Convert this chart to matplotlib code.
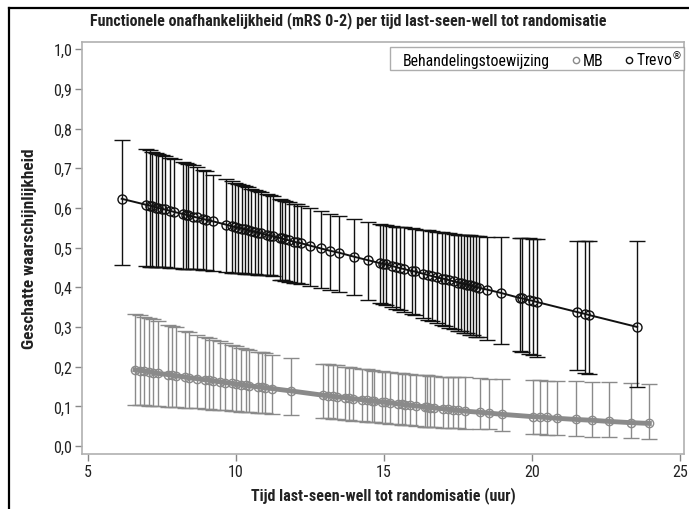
import numpy as np
import matplotlib
matplotlib.use("Agg")
import matplotlib.pyplot as plt
from matplotlib.lines import Line2D
from matplotlib.ticker import FuncFormatter
from matplotlib import font_manager

namen = {f.name for f in font_manager.fontManager.ttflist}
smal = [n for n in ['Liberation Sans Narrow', 'DejaVu Sans Condensed', 'Roboto Condensed',
                    'Open Sans Condensed', 'Noto Sans Condensed'] if n in namen]
plt.rcParams['font.family'] = smal + ['DejaVu Sans']
plt.rcParams['font.stretch'] = 'condensed'

# Trevo (zwart)
trevo_x = [6.14, 6.96, 7.08, 7.18, 7.3, 7.37, 7.49, 7.6, 7.77, 7.9, 8.2, 8.3, 8.39, 8.56, 8.67,
           8.9, 8.99, 9.23, 9.66, 9.85, 9.97, 10.08, 10.2, 10.3, 10.4, 10.52, 10.63, 10.75, 10.85,
           11.04, 11.15, 11.26, 11.5, 11.54, 11.65, 11.8, 11.95, 12.05, 12.2, 12.5, 12.86, 13.18,
           13.49, 13.99, 14.47, 14.86, 14.97, 15.05, 15.26, 15.4, 15.55, 15.68, 15.93, 16.03, 16.33,
           16.48, 16.63, 16.8, 16.95, 17.05, 17.2, 17.35, 17.5, 17.6, 17.7, 17.8, 17.9, 18.0, 18.1,
           18.2, 18.49, 18.94, 19.59, 19.67, 19.88, 20.02, 20.16, 21.5, 21.79, 21.93, 23.55]
trevo_y = [0.623, 0.608, 0.606, 0.604, 0.601, 0.600, 0.598, 0.596, 0.593, 0.590, 0.585, 0.583,
           0.581, 0.578, 0.576, 0.572, 0.570, 0.566, 0.558, 0.554, 0.552, 0.550, 0.548, 0.546,
           0.544, 0.542, 0.540, 0.537, 0.536, 0.532, 0.530, 0.528, 0.524, 0.523, 0.521, 0.518,
           0.515, 0.513, 0.511, 0.505, 0.498, 0.492, 0.487, 0.477, 0.468, 0.461, 0.459, 0.458,
           0.454, 0.451, 0.448, 0.446, 0.441, 0.440, 0.434, 0.431, 0.428, 0.425, 0.422, 0.421,
           0.418, 0.415, 0.412, 0.410, 0.409, 0.407, 0.405, 0.403, 0.401, 0.399, 0.394, 0.386,
           0.373, 0.372, 0.368, 0.366, 0.363, 0.338, 0.333, 0.330, 0.300]
trevo_hi = [0.770, 0.748, 0.745, 0.742, 0.739, 0.737, 0.734, 0.731, 0.727, 0.724, 0.716, 0.713,
            0.711, 0.707, 0.704, 0.695, 0.693, 0.684, 0.672, 0.667, 0.664, 0.661, 0.658, 0.655,
            0.652, 0.648, 0.645, 0.642, 0.639, 0.635, 0.632, 0.629, 0.622, 0.621, 0.618, 0.615,
            0.611, 0.609, 0.606, 0.600, 0.592, 0.585, 0.579, 0.572, 0.565, 0.559, 0.558, 0.557,
            0.555, 0.553, 0.552, 0.551, 0.549, 0.548, 0.545, 0.544, 0.542, 0.540, 0.539, 0.538,
            0.536, 0.535, 0.533, 0.532, 0.532, 0.531, 0.531, 0.530, 0.530, 0.529, 0.527, 0.527,
            0.524, 0.524, 0.523, 0.522, 0.522, 0.517, 0.516, 0.516, 0.516]
trevo_lo = [0.456, 0.453, 0.452, 0.452, 0.451, 0.451, 0.450, 0.450, 0.449, 0.448, 0.447, 0.447,
            0.446, 0.446, 0.445, 0.444, 0.444, 0.442, 0.438, 0.437, 0.436, 0.435, 0.435, 0.434,
            0.434, 0.433, 0.433, 0.432, 0.432, 0.431, 0.430, 0.428, 0.419, 0.418, 0.416, 0.413,
            0.411, 0.410, 0.408, 0.404, 0.398, 0.393, 0.387, 0.380, 0.367, 0.361, 0.359, 0.356,
            0.350, 0.346, 0.342, 0.339, 0.333, 0.330, 0.322, 0.318, 0.314, 0.309, 0.305, 0.302,
            0.298, 0.294, 0.291, 0.289, 0.286, 0.284, 0.281, 0.279, 0.276, 0.274, 0.267, 0.256,
            0.240, 0.238, 0.232, 0.229, 0.225, 0.191, 0.185, 0.182, 0.150]

# MB (grijs)
mb_x = [6.59, 6.76, 6.9, 7.07, 7.2, 7.38, 7.71, 7.85, 7.97, 8.28, 8.4, 8.67, 8.95, 9.08, 9.23,
        9.45, 9.62, 9.85, 10.0, 10.17, 10.34, 10.43, 10.75, 10.87, 10.98, 11.2, 11.85, 12.95,
        13.12, 13.27, 13.40, 13.68, 13.83, 13.96, 14.25, 14.41, 14.58, 14.66, 14.92, 15.03, 15.20,
        15.48, 15.60, 15.71, 15.88, 16.08, 16.39, 16.44, 16.55, 16.69, 17.00, 17.17, 17.34, 17.51,
        17.74, 18.24, 18.56, 18.97, 20.04, 20.27, 20.5, 20.83, 21.49, 22.01, 22.61, 23.33, 23.96]
mb_y = [0.192, 0.190, 0.189, 0.187, 0.185, 0.183, 0.180, 0.178, 0.177, 0.174, 0.172, 0.170,
        0.167, 0.166, 0.164, 0.162, 0.160, 0.158, 0.156, 0.155, 0.153, 0.152, 0.149, 0.148,
        0.147, 0.145, 0.139, 0.128, 0.127, 0.125, 0.124, 0.122, 0.120, 0.119, 0.117, 0.115,
        0.114, 0.113, 0.111, 0.110, 0.109, 0.106, 0.105, 0.104, 0.103, 0.101, 0.099, 0.098,
        0.097, 0.096, 0.094, 0.093, 0.091, 0.090, 0.088, 0.085, 0.083, 0.080, 0.074, 0.073,
        0.072, 0.070, 0.067, 0.065, 0.062, 0.059, 0.057]
mb_hi = [0.332, 0.329, 0.326, 0.322, 0.319, 0.315, 0.306, 0.302, 0.299, 0.291, 0.288, 0.281,
         0.275, 0.272, 0.268, 0.264, 0.260, 0.255, 0.252, 0.248, 0.245, 0.243, 0.238, 0.236,
         0.234, 0.230, 0.221, 0.208, 0.206, 0.204, 0.203, 0.200, 0.198, 0.197, 0.194, 0.193,
         0.191, 0.190, 0.188, 0.187, 0.186, 0.184, 0.183, 0.182, 0.181, 0.180, 0.178, 0.178,
         0.177, 0.176, 0.175, 0.175, 0.174, 0.174, 0.174, 0.171, 0.170, 0.168, 0.166, 0.166,
         0.165, 0.165, 0.163, 0.162, 0.161, 0.159, 0.157]
mb_lo = [0.104, 0.103, 0.103, 0.102, 0.101, 0.101, 0.099, 0.099, 0.098, 0.097, 0.096, 0.095,
         0.094, 0.093, 0.092, 0.091, 0.090, 0.089, 0.088, 0.087, 0.086, 0.086, 0.084, 0.083,
         0.083, 0.081, 0.078, 0.071, 0.070, 0.069, 0.068, 0.066, 0.065, 0.064, 0.062, 0.061,
         0.060, 0.060, 0.058, 0.057, 0.056, 0.055, 0.054, 0.053, 0.052, 0.051, 0.049, 0.049,
         0.048, 0.048, 0.046, 0.046, 0.045, 0.045, 0.044, 0.043, 0.042, 0.039, 0.031, 0.030,
         0.029, 0.028, 0.026, 0.024, 0.022, 0.020, 0.018]

grijs = '#8a8a8a'
zwart = '#111111'

fig = plt.figure(figsize=(6.89, 5.10), dpi=100)
ax = fig.add_axes([82/689, 1-455/510, 602/689, 412/510])

mb_x = np.array(mb_x); mb_y = np.array(mb_y)
tr_x = np.array(trevo_x); tr_y = np.array(trevo_y)

ax.errorbar(mb_x, mb_y, yerr=[mb_y - np.array(mb_lo), np.array(mb_hi) - mb_y],
            fmt='none', ecolor=grijs, elinewidth=1, capsize=6, capthick=1, zorder=2)
ax.plot(mb_x, mb_y, color=grijs, lw=3.5, zorder=3)
ax.plot(mb_x, mb_y, 'o', ms=6, mfc='none', mec=grijs, mew=1, zorder=4)

ax.errorbar(tr_x, tr_y, yerr=[tr_y - np.array(trevo_lo), np.array(trevo_hi) - tr_y],
            fmt='none', ecolor=zwart, elinewidth=1, capsize=6, capthick=1, zorder=5)
ax.plot(tr_x, tr_y, color=zwart, lw=1.4, zorder=6)
ax.plot(tr_x, tr_y, 'o', ms=6.5, mfc='none', mec=zwart, mew=1, zorder=7)

ax.set_xlim(4.8, 25.13)
ax.set_ylim(-0.02, 1.018)
ax.set_xticks([5, 10, 15, 20, 25])
ax.set_yticks(np.arange(0, 1.01, 0.1))
ax.yaxis.set_major_formatter(FuncFormatter(lambda v, p: f"{v:.1f}".replace('.', ',')))
for s in ax.spines.values():
    s.set_color('#b0b0b0')
    s.set_linewidth(1.2)
ax.tick_params(axis='both', colors='#888888', labelcolor='#222222', labelsize=11.5,
               length=5, width=1, pad=2)

smal_ok = len(smal) > 0
k = 1.0 if smal_ok else 0.78
fig.text(348/689, 1-21/510,
         'Functionele onafhankelijkheid (mRS 0-2) per tijd last-seen-well tot randomisatie',
         ha='center', va='center', fontsize=11.5 * k, fontweight='bold', color='#222222')
ax.set_xlabel('Tijd last-seen-well tot randomisatie (uur)', fontsize=11.5 * k, fontweight='bold',
              color='#222222', labelpad=5)
ax.set_ylabel('Geschatte waarschijnlijkheid', fontsize=12.5 * k, fontweight='bold',
              color='#222222', labelpad=12)

handles = [Line2D([], [], color='none'),
           Line2D([], [], ls='none', marker='o', ms=4.5, mfc='none', mec=grijs),
           Line2D([], [], ls='none', marker='o', ms=4.5, mfc='none', mec=zwart)]
leg = ax.legend(handles, ['Behandelingstoewijzing', 'MB', r'Trevo$^{\circledR}$'], ncol=3,
                loc='upper right', bbox_to_anchor=(1.0, 0.988),
                fontsize=11.3 * k,
                handlelength=0.5, handletextpad=0.2, columnspacing=1.4,
                frameon=True, fancybox=False, borderpad=0.12, borderaxespad=0)
leg.get_frame().set_edgecolor('#999999')
leg.get_frame().set_linewidth(1)

# zwarte rand om de figuur
fig.add_artist(Line2D([9/689, 9/689], [0, 1-9/510], color='black', lw=1.6))
fig.add_artist(Line2D([9/689, 1], [1-9/510, 1-9/510], color='black', lw=1.6))

fig.savefig('out.png', dpi=100)
